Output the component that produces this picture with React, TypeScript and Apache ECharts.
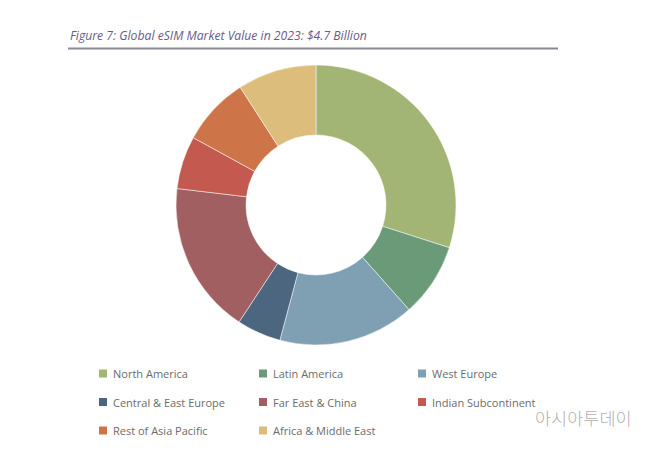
import React, { useEffect, useRef } from "react";
import * as echarts from "echarts";

const titleText = "Figure 7: Global eSIM Market Value in 2023: $4.7 Billion";
const regions = [
  "North America",
  "Latin America",
  "West Europe",
  "Central & East Europe",
  "Far East & China",
  "Indian Subcontinent",
  "Rest of Asia Pacific",
  "Africa & Middle East",
];
const shares = [29.9, 8.5, 15.7, 5.1, 17.6, 6.1, 7.9, 9.1];
const colors = ["#a3b574", "#6a9a78", "#7f9fb3", "#4d6680", "#a15f61", "#c3594f", "#cd7549", "#dcbd7b"];
const legendCol1 = ["North America", "Central & East Europe", "Rest of Asia Pacific"];
const legendCol2 = ["Latin America", "Far East & China", "Africa & Middle East"];
const legendCol3 = ["West Europe", "Indian Subcontinent"];

export default function App() {
  const ref = useRef<HTMLDivElement>(null);
  useEffect(() => {
    if (!ref.current) return;
    const chart = echarts.init(ref.current, null, { renderer: "svg" });
    const legendBase = {
      orient: "vertical" as const,
      top: 366.5,
      itemWidth: 10,
      itemHeight: 10,
      itemGap: 14.5,
      icon: "rect",
      selectedMode: false,
      textStyle: { color: "#6b6b6b", fontSize: 11, fontFamily: "Open Sans", lineHeight: 14, padding: [0, 0, 0, 0] },
      padding: 0,
    };
    chart.setOption({
      animation: false,
      backgroundColor: "#ffffff",
      color: colors,
      graphic: [
        {
          type: "text",
          left: 70,
          top: 29,
          style: {
            text: titleText,
            fill: "#6a5a88",
            font: "italic 12.2px 'Open Sans'",
          },
        },
        {
          type: "line",
          shape: { x1: 68, y1: 48.5, x2: 558, y2: 48.5 },
          style: { stroke: "#8d8599", lineWidth: 2 },
        },
        {
          type: "text",
          left: 535,
          top: 409,
          style: {
            text: "아시아투데이",
            fill: "#a0a0a0",
            font: "300 17.5px 'Noto Sans CJK KR'",
            opacity: 0.85,
          },
        },
      ],
      legend: [
        { ...legendBase, left: 97, data: legendCol1 },
        { ...legendBase, left: 257, data: legendCol2 },
        { ...legendBase, left: 416, data: legendCol3 },
      ],
      series: [
        {
          type: "pie",
          center: [316, 205],
          radius: [70, 140],
          startAngle: 90,
          clockwise: true,
          label: { show: false },
          labelLine: { show: false },
          emphasis: { disabled: true },
          itemStyle: { borderColor: "#ffffff", borderWidth: 0.5 },
          data: regions.map((name, i) => ({ name, value: shares[i] })),
        },
      ],
    });
    return () => chart.dispose();
  }, []);
  return (
    <div
      ref={ref}
      style={{ position: "absolute", left: 0, top: 0, width: 658, height: 451 }}
    />
  );
}
